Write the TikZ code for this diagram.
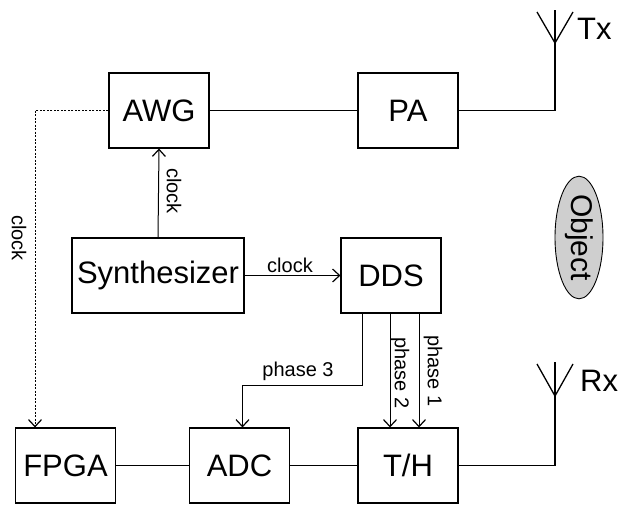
\documentclass[tikz,border=0pt]{standalone}
\usepackage{fontspec}
\setmainfont{Liberation Sans}
\usetikzlibrary{arrows.meta,shapes.geometric}
\begin{document}
\begin{tikzpicture}[x=1pt,y=-1pt,
  blk/.style={draw, line width=1.1pt, minimum width=100pt, minimum height=75pt, inner sep=0pt, font=\fontsize{31}{31}\selectfont},
  conn/.style={line width=1.8pt},
  sig/.style={line width=1pt, -{Straight Barb[length=7pt,width=13pt,line width=1.2pt]}},
  clk/.style={line width=0.9pt, dash pattern=on 2pt off 1.5pt, -{Straight Barb[length=7pt,width=13pt,line width=1.2pt]}},
  lbl/.style={font=\fontsize{20}{20}\selectfont, inner sep=0pt},
  vlbl/.style={lbl, rotate=-90},
  big/.style={font=\fontsize{31}{31}\selectfont, inner sep=0pt}]
\useasboundingbox (0,0) rectangle (623,505);

% blocks
\node[blk] (awg) at (159,110.5) {AWG};
\node[blk] (pa) at (408,110.5) {PA};
\node[blk, minimum width=172pt] (syn) at (158,275.5) {Synthesizer};
\node[blk] (dds) at (391,275.5) {DDS};
\node[blk] (fpga) at (65.5,465.5) {FPGA};
\node[blk] (adc) at (239.5,465.5) {ADC};
\node[blk] (th) at (408,465.5) {T/H};

% object
\node[ellipse, draw, line width=0.9pt, fill=gray!38, rotate=-90, minimum width=121pt, minimum height=48pt, inner sep=0pt, font=\fontsize{30}{30}\selectfont] (obj) at (579,237.5) {Object};

% antennas
\coordinate (txc) at (555,110.5);
\coordinate (txf) at (555,43);
\coordinate (rxc) at (555,465.5);
\coordinate (rxf) at (555,396);
\draw[conn] (awg) -- (pa);
\draw[conn, line join=miter] (pa) -- (txc) -- (txf);
\draw[line width=1.3pt] (537,12) -- (txf) -- (573,12);
\draw[line width=1.3pt] (txf) -- (555,10);
\node[big, anchor=west] (tx) at (577,29) {Tx};

\draw[conn] (fpga) -- (adc);
\draw[conn] (adc) -- (th);
\draw[conn, line join=miter] (th) -- (rxc) -- (rxf);
\draw[line width=1.3pt] (537,364) -- (rxf) -- (573,364);
\draw[line width=1.3pt] (rxf) -- (555,362);
\node[big, anchor=west] (rx) at (580,381) {Rx};

% clocks
\draw[sig] (syn.north) -- (awg.south);
\node[vlbl] (c1) at (174,191) {clock};
\draw[sig] (syn.east) -- (dds.west);
\node[lbl] (c2) at (290,265) {clock};
\coordinate (ck) at (35,110.5);
\draw[clk] (awg.west) -- (ck) -- (ck |- fpga.north);
\node[vlbl] (cklbl) at (19,238) {clock};

% phases
\coordinate (p3) at (362,385);
\draw[sig] (dds.south -| p3) -- (p3) -| ([xshift=3pt]adc.north);
\node[lbl, anchor=south] (p3lbl) at (298,381) {phase 3};
\draw[sig] ([xshift=-1pt]dds.south) -- ([xshift=-18pt]th.north);
\node[vlbl] (p2) at (400,373) {phase 2};
\draw[sig] ([xshift=28pt]dds.south) -- ([xshift=11pt]th.north);
\node[vlbl] (p1) at (433,371) {phase 1};
\end{tikzpicture}
\end{document}
